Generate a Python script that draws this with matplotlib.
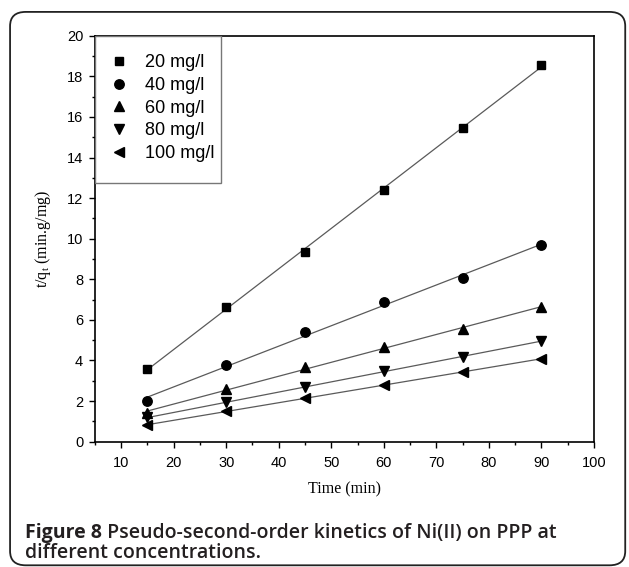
import numpy as np
import matplotlib
matplotlib.use("Agg")
import matplotlib.pyplot as plt
from matplotlib.patches import FancyBboxPatch, Rectangle
from matplotlib.ticker import MultipleLocator

# data
time_min = [15, 30, 45, 60, 75, 90]
labels = ['20 mg/l', '40 mg/l', '60 mg/l', '80 mg/l', '100 mg/l']
t_qt_20 = [3.58, 6.65, 9.36, 12.42, 15.45, 18.56]
t_qt_40 = [2.0, 3.78, 5.39, 6.87, 8.05, 9.68]
t_qt_60 = [1.40, 2.58, 3.69, 4.65, 5.55, 6.62]
t_qt_80 = [1.20, 1.94, 2.68, 3.47, 4.16, 4.98]
t_qt_100 = [0.80, 1.51, 2.17, 2.79, 3.43, 4.07]
markers = ['s', 'o', '^', 'v', '<']
msizes = [6.0, 6.8, 7.2, 7.2, 7.2]

series = [t_qt_20, t_qt_40, t_qt_60, t_qt_80, t_qt_100]

fig = plt.figure(figsize=(6.29, 5.67), dpi=100)

# rounded frame around figure + caption
frame = FancyBboxPatch((0.016, 0.003), 0.978, 0.976,
                       boxstyle="round,pad=0,rounding_size=0.025",
                       transform=fig.transFigure, facecolor='none',
                       edgecolor='#222222', linewidth=1.3)
fig.patches.append(frame)

ax = fig.add_axes([0.151, 0.221, 0.793, 0.716])

x = np.array(time_min, dtype=float)
for ys, m, ms, lab in zip(series, markers, msizes, labels):
    ys = np.array(ys)
    k, b = np.polyfit(x, ys, 1)
    ax.plot(x, k * x + b, color='#5a5a5a', lw=0.9, zorder=2)
    ax.plot(x, ys, ls='none', marker=m, color='black', ms=ms,
            label=lab, zorder=3)

ax.set_xlim(5, 100)
ax.set_ylim(0, 20)
ax.xaxis.set_major_locator(MultipleLocator(10))
ax.xaxis.set_minor_locator(MultipleLocator(5))
ax.yaxis.set_major_locator(MultipleLocator(2))
ax.yaxis.set_minor_locator(MultipleLocator(1))
ax.tick_params(which='both', direction='out', top=False, right=False,
               labelsize=10.5, width=1.0)
ax.tick_params(which='major', length=4.5)
ax.tick_params(which='minor', length=2.5)
ax.tick_params(axis='x', which='major', pad=6)
ax.tick_params(axis='y', which='major', pad=4)
for lbl in ax.get_xticklabels() + ax.get_yticklabels():
    lbl.set_family('Liberation Sans')
for s in ax.spines.values():
    s.set_linewidth(1.2)

ax.set_xlabel('Time (min)', family='Liberation Serif', fontsize=11.5, labelpad=8)
ax.set_ylabel(r't/q$_\mathregular{t}$ (min.g/mg)', family='Liberation Serif',
              fontsize=11.5, labelpad=10)

# legend box
ax.add_patch(Rectangle((0, 0.638), 0.2525, 0.362, transform=ax.transAxes,
                       facecolor='white', edgecolor='#777777', lw=1.0, zorder=4))
leg = ax.legend(loc='upper left', bbox_to_anchor=(0.0, 0.985), frameon=False,
                prop={'family': 'Liberation Sans', 'size': 13},
                handletextpad=0.75, labelspacing=0.31, handlelength=1.3,
                borderaxespad=0.3)
leg.set_zorder(5)

# caption
cap = fig.text(0.040, 0.051, 'Figure 8', family='Open Sans', weight='bold',
               fontsize=14, color='#231f20')
ax.annotate(' Pseudo-second-order kinetics of Ni(II) on PPP at',
            xy=(1, 0), xycoords=cap, va='bottom', ha='left',
            family='Open Sans', weight='semibold', fontsize=14,
            color='#231f20', annotation_clip=False)
fig.text(0.040, 0.015, 'different concentrations.', family='Open Sans',
         weight='semibold', fontsize=14, color='#231f20')

fig.savefig('out.png', dpi=100)
